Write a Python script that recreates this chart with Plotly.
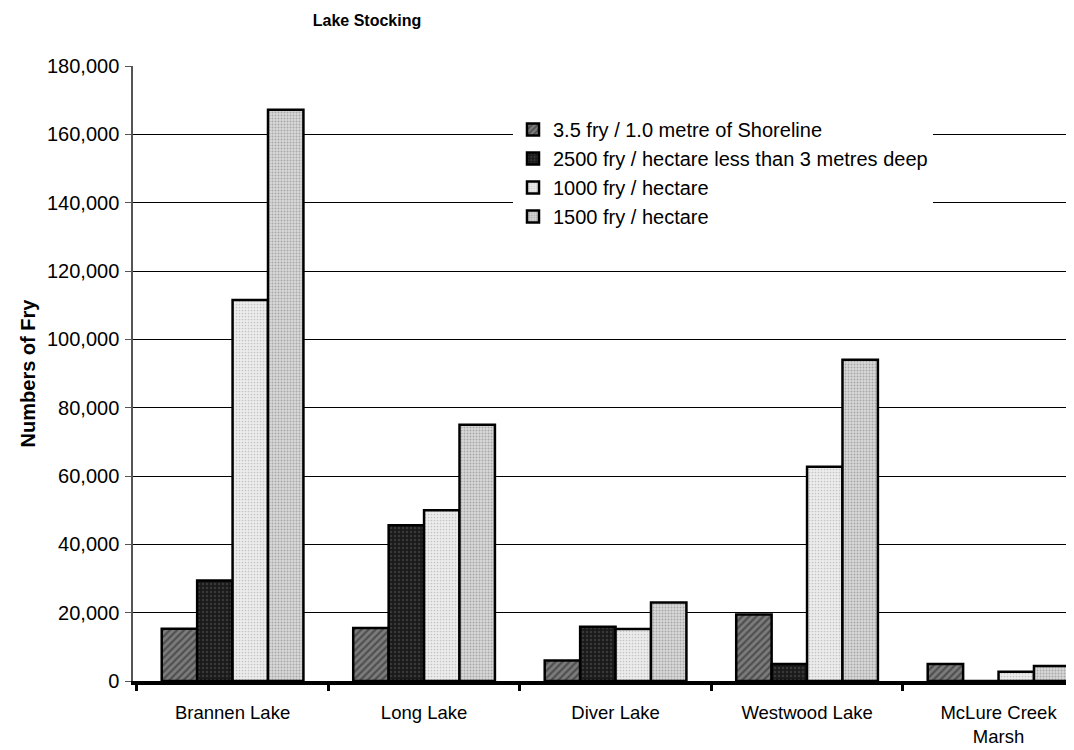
import plotly.graph_objects as go

categories = ["Brannen Lake", "Long Lake", "Diver Lake", "Westwood Lake", "McLure Creek<br>Marsh"]
series_names = [
    "3.5 fry / 1.0 metre of Shoreline",
    "2500 fry / hectare less than 3 metres deep",
    "1000 fry / hectare",
    "1500 fry / hectare",
]
shoreline = [15300, 15500, 6000, 19500, 5000]
shallow = [29400, 45600, 15900, 5000, 0]
fry1000 = [111500, 50000, 15200, 62700, 2700]
fry1500 = [167200, 75000, 23000, 94000, 4400]
y_ticks = list(range(0, 180001, 20000))

styles = [
    dict(bg="#7c7c7c", fg="#222222", shape="/", size=5, solidity=0.45),
    dict(bg="#1a1a1a", fg="#555555", shape=".", size=4, solidity=0.3),
    dict(bg="#ececec", fg="#9a9a9a", shape=".", size=3, solidity=0.25),
    dict(bg="#d8d8d8", fg="#777777", shape=".", size=3, solidity=0.35),
]

fig = go.Figure()
for name, vals, st in zip(series_names, [shoreline, shallow, fry1000, fry1500], styles):
    fig.add_trace(go.Bar(
        x=categories, y=vals, name=name,
        marker=dict(
            color=st["bg"],
            line=dict(color="black", width=2.5),
            pattern=dict(shape=st["shape"], fgcolor=st["fg"], bgcolor=st["bg"],
                         size=st["size"], solidity=st["solidity"], fillmode="overlay"),
        ),
    ))

W, H = 1066, 742
fig.update_layout(
    width=W, height=H,
    margin=dict(l=125, r=0, t=58, b=69, autoexpand=False),
    paper_bgcolor="white", plot_bgcolor="white",
    barmode="group", bargap=0.26, bargroupgap=0,
    font=dict(family="Liberation Sans, Arial, sans-serif", size=18, color="black"),
    title=dict(text="<b>Lake Stocking</b>", x=(367 - 8) / W, xref="container", xanchor="center",
               y=1 - (20 - 8) / H, yref="container", yanchor="middle",
               font=dict(family="Liberation Sans Narrow, Arial Narrow, Liberation Sans", size=16)),
    legend=dict(x=(513 - 133) / 941, y=(681 - 110) / 615, xanchor="left", yanchor="top",
                bgcolor="white", font=dict(size=20), tracegroupgap=0, itemwidth=30,
                traceorder="normal"),
    showlegend=True,
)

fig.update_xaxes(
    range=[-0.52, 4.394], showline=True, linecolor="black", linewidth=4,
    ticks="outside", tickson="boundaries", ticklen=6, tickwidth=3, tickcolor="black",
    showgrid=False, tickfont=dict(size=18.5), ticklabelstandoff=12,
)
fig.update_yaxes(
    range=[0, 180000], tickvals=y_ticks, tickformat=",",
    showline=True, linecolor="#555555", linewidth=1.5,
    ticks="outside", ticklen=6, tickcolor="#555555",
    showgrid=True, gridcolor="black", gridwidth=1.3, zeroline=False,
    title=dict(text="<b>Numbers of Fry</b>", font=dict(size=20), standoff=6),
    tickfont=dict(size=20), ticklabelstandoff=2,
)

fig.write_html("out.html")
